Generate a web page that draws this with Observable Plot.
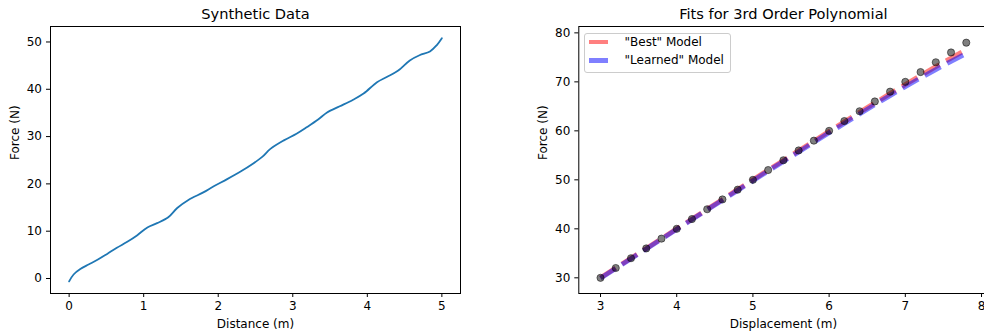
<!DOCTYPE html>
<html><head><meta charset="utf-8">
<script src="https://cdn.jsdelivr.net/npm/d3@7"></script>
<script src="https://cdn.jsdelivr.net/npm/@observablehq/plot@0.6"></script>
<style>
html,body{margin:0;padding:0;background:#fff;overflow:hidden;}
#wrap{position:relative;width:984px;height:335px;overflow:hidden;font-family:"DejaVu Sans",sans-serif;background:#fff;}
.panel{position:absolute;top:0;}
#legend{position:absolute;left:584px;top:32.5px;width:145px;height:38px;border:1px solid #cccccc;border-radius:3px;background:rgba(255,255,255,0.8);font-size:12px;color:#000;}
.lg{position:absolute;left:4px;width:19px;height:4.8px;}
.lt{position:absolute;left:39.5px;line-height:14px;white-space:nowrap;}
</style></head><body><div id="wrap"></div>
<script>
// ---- Left panel: synthetic data ----
const leftTitle = "Synthetic Data";
const leftXLabel = "Distance (m)";
const leftYLabel = "Force (N)";
const distance = [0, 0.06, 0.15, 0.26, 0.38, 0.51, 0.64, 0.78, 0.91, 1.05, 1.18, 1.33, 1.45, 1.6, 1.8, 1.94, 2.12, 2.3, 2.47, 2.59, 2.7, 2.88, 3.05, 3.19, 3.34, 3.46, 3.63, 3.81, 3.95, 4.13, 4.26, 4.41, 4.57, 4.7, 4.84, 4.93, 5.0];
const force = [-0.6, 0.85, 2.0, 2.95, 3.95, 5.2, 6.5, 7.75, 9.1, 10.8, 11.7, 12.95, 14.9, 16.6, 18.2, 19.5, 21.0, 22.6, 24.3, 25.7, 27.4, 29.2, 30.6, 32.0, 33.6, 35.1, 36.4, 37.8, 39.1, 41.5, 42.6, 43.9, 46.1, 47.2, 48.0, 49.3, 50.8];
const leftXTicks = [0, 1, 2, 3, 4, 5];
const leftYTicks = [0, 10, 20, 30, 40, 50];

// ---- Right panel: fits ----
const rightTitle = "Fits for 3rd Order Polynomial";
const rightXLabel = "Displacement (m)";
const rightYLabel = "Force (N)";
const displacement = [3.0, 3.2, 3.4, 3.6, 3.8, 4.0, 4.2, 4.4, 4.6, 4.8, 5.0, 5.2, 5.4, 5.6, 5.8, 6.0, 6.2, 6.4, 6.6, 6.8, 7.0, 7.2, 7.4, 7.6, 7.8];
const observedForce = [30, 32, 34, 36, 38, 40, 42, 44, 46, 48, 50, 52, 54, 56, 58, 60, 62, 64, 66, 68, 70, 72, 74, 76, 78];
const bestModel = [30.0, 32.0, 34.0, 36.0, 38.0, 40.0, 42.0, 44.0, 46.0, 48.0, 50.0, 52.0, 53.95, 55.95, 57.9, 59.9, 61.85, 63.8, 65.7, 67.6, 69.45, 71.3, 73.1, 74.85, 76.55];
const learnedModel = [29.9, 31.9, 33.9, 35.9, 37.9, 39.9, 41.9, 43.9, 45.85, 47.85, 49.8, 51.8, 53.75, 55.7, 57.65, 59.6, 61.5, 63.45, 65.35, 67.2, 69.0, 70.8, 72.5, 74.2, 75.8];
const rightXTicks = [3, 4, 5, 6, 7, 8];
const rightYTicks = [30, 40, 50, 60, 70, 80];
const legendLabels = ['"Best" Model', '"Learned" Model'];
const legendColors = ["rgba(255,0,0,0.5)", "rgba(0,0,255,0.5)"];

const FONT = "DejaVu Sans";
const wrap = document.getElementById("wrap");

function axes(xTicks, yTicks, xLabel, yLabel, title, ydx) {
  return [
    Plot.frame({stroke: "black", strokeWidth: 1}),
    Plot.axisX({ticks: xTicks, tickSize: 4, tickPadding: 4, fontSize: 12, label: null, tickFormat: d => String(d)}),
    Plot.axisY({ticks: yTicks, tickSize: 4, tickPadding: 4.5, fontSize: 12, label: null, tickFormat: d => String(d)}),
    Plot.text([xLabel], {frameAnchor: "bottom", lineAnchor: "middle", dy: 30.7, fontSize: 12, fill: "black"}),
    Plot.text([yLabel], {frameAnchor: "left", lineAnchor: "middle", dx: ydx, rotate: -90, fontSize: 12, fill: "black"}),
    Plot.text([title], {frameAnchor: "top", lineAnchor: "middle", dy: -12.5, fontSize: 14.6, fill: "black"})
  ];
}

const leftData = distance.map((d, i) => ({x: d, y: force[i]}));
const left = Plot.plot({
  width: 490, height: 335,
  marginLeft: 50, marginRight: 30, marginTop: 26, marginBottom: 42,
  x: {domain: [-0.25, 5.25]},
  y: {domain: [-3.17, 53.27]},
  style: {fontFamily: FONT, fontSize: "12px", color: "black", background: "white", overflow: "visible"},
  marks: [
    Plot.line(leftData, {x: "x", y: "y", stroke: "#1f77b4", strokeWidth: 1.8, curve: "catmull-rom"}),
    ...axes(leftXTicks, leftYTicks, leftXLabel, leftYLabel, leftTitle, -35.3)
  ]
});
left.classList.add("panel");
left.style.left = "0px";
wrap.appendChild(left);

const fitData = displacement.map((d, i) => ({x: d, best: bestModel[i], learned: learnedModel[i], obs: observedForce[i]}));
const right = Plot.plot({
  width: 500, height: 335,
  marginLeft: 88.3, marginRight: 2.5, marginTop: 26, marginBottom: 42,
  x: {domain: [2.715, 8.085]},
  y: {domain: [26.8, 81.3]},
  style: {fontFamily: FONT, fontSize: "12px", color: "black", background: "white"},
  marks: [
    Plot.line(fitData, {x: "x", y: "best", stroke: "red", strokeOpacity: 0.5, strokeWidth: 4.8, strokeDasharray: "18,7.5", strokeLinecap: "butt"}),
    Plot.line(fitData, {x: "x", y: "learned", stroke: "blue", strokeOpacity: 0.5, strokeWidth: 4.8, strokeDasharray: "18,7.5", strokeLinecap: "butt"}),
    Plot.dot(fitData, {x: "x", y: "obs", r: 3.6, fill: "black", fillOpacity: 0.5, stroke: "black", strokeOpacity: 0.5, strokeWidth: 1}),
    ...axes(rightXTicks, rightYTicks, rightXLabel, rightYLabel, rightTitle, -36)
  ]
});
right.classList.add("panel");
right.style.left = "490px";
wrap.appendChild(right);

// legend
const lg = document.createElement("div");
lg.id = "legend";
legendLabels.forEach((lab, i) => {
  const h = document.createElement("div");
  h.className = "lg";
  h.style.top = (6.1 + i * 18.4) + "px";
  h.style.background = legendColors[i];
  lg.appendChild(h);
  const t = document.createElement("div");
  t.className = "lt";
  t.style.top = (1.5 + i * 18.4) + "px";
  t.textContent = lab;
  lg.appendChild(t);
});
wrap.appendChild(lg);
</script>
</body></html>
